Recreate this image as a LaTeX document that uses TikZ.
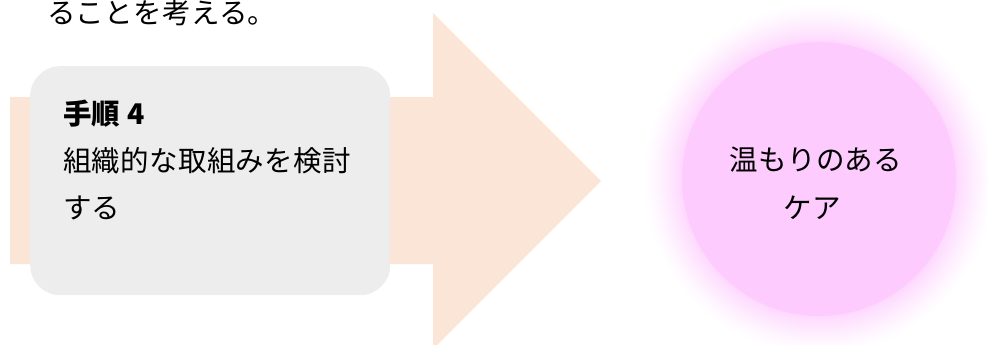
\documentclass[tikz,border=0pt]{standalone}
\usepackage{fontspec}
\setmainfont{Noto Sans CJK JP}[LetterSpace=1]
\definecolor{peach}{HTML}{FBE5D6}
\definecolor{boxgray}{HTML}{EDEDED}
\definecolor{pinkc}{HTML}{FDCBFD}
\tikzset{
  jtext/.style={inner sep=0pt, font=\fontsize{28.5}{32}\selectfont, text=black},
}
\begin{document}
\begin{tikzpicture}[x=1pt,y=-1pt]
\useasboundingbox (0,0) rectangle (987,345);
% arrow
\fill[peach] (10,97) -- (433,97) -- (433,13) -- (601,181) -- (433,349) -- (433,264) -- (10,264) -- cycle;
% gray box
\node[fill=boxgray, rounded corners=30pt, minimum width=360pt, minimum height=229pt, inner sep=0pt, anchor=north west] (box) at (30,66) {};
% texts
\node[jtext, anchor=base west] (t0) at (47,24) {ることを考える。};
\node[jtext, anchor=base west, font=\fontsize{28.5}{32}\selectfont\bfseries] (t1) at (63,124) {手順 4};
\node[jtext, anchor=base west] (t2) at (63,171) {組織的な取組みを検討};
\node[jtext, anchor=base west] (t3) at (63,218) {する};
% glow
\foreach \i in {0,...,38} {
  \pgfmathsetmacro{\p}{72*(\i/38)^1.3}
  \fill[pinkc!\p!white] (819,179) circle ({176-\i});
}
\node[circle, fill=pinkc, minimum size=274pt, inner sep=0pt] (care) at (819,179) {};
\node[jtext, anchor=base] (c1) at (816,170) {温もりのある};
\node[jtext, anchor=base] (c2) at (812,218) {ケア};
\end{tikzpicture}
\end{document}
